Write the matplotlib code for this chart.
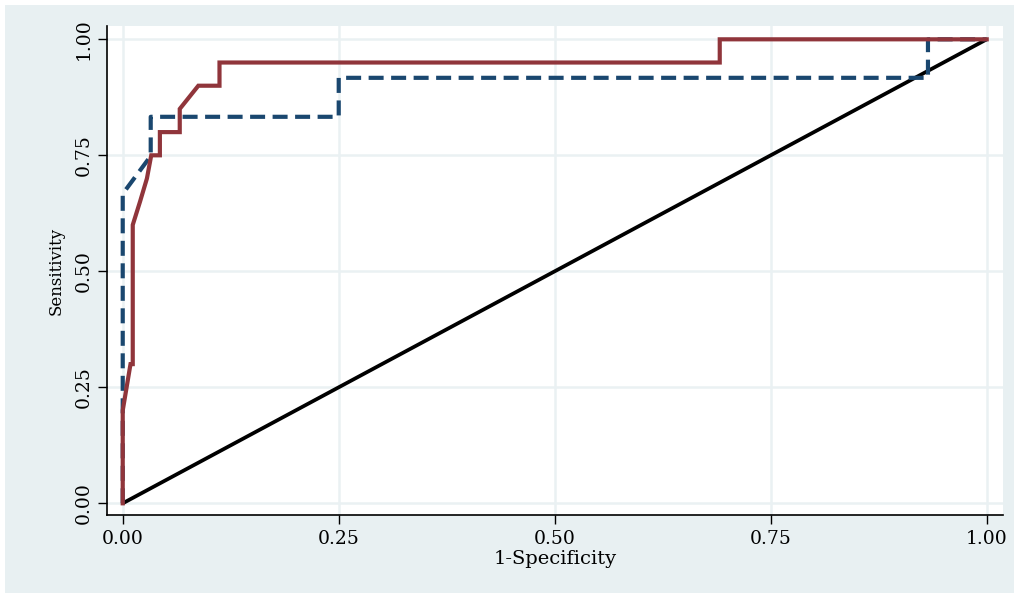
import matplotlib
matplotlib.use("Agg")
import matplotlib.pyplot as plt
from matplotlib.patches import Rectangle

# ROC curve 1 (maroon, solid)
roc1_fpr = [0, 0, 0.009, 0.0116, 0.0116, 0.02, 0.028, 0.033, 0.043, 0.043,
            0.066, 0.066, 0.0875, 0.112, 0.112, 0.691, 0.691, 1.0]
roc1_tpr = [0, 0.2, 0.3, 0.3, 0.6, 0.65, 0.7, 0.75, 0.75, 0.8,
            0.8, 0.85, 0.9, 0.9, 0.95, 0.95, 1.0, 1.0]

# ROC curve 2 (navy, dashed)
roc2_fpr = [0, 0, 0.029, 0.0324, 0.0324, 0.25, 0.25, 0.932, 0.932, 1.0]
roc2_tpr = [0, 0.667, 0.74, 0.75, 0.833, 0.833, 0.917, 0.917, 1.0, 1.0]

# Reference line
ref_x = [0, 1]
ref_y = [0, 1]

ticks = [0, 0.25, 0.5, 0.75, 1.0]
tick_labels = ["0.00", "0.25", "0.50", "0.75", "1.00"]

BG = "#e8f0f2"
GRID = "#eaf1f3"
RED = "#90353b"
NAVY = "#1a476f"
FONT = "DejaVu Serif"

fig = plt.figure(figsize=(10.14, 5.94), dpi=100)
fig.patch.set_facecolor("white")
bg = Rectangle((5 / 1014, 1 / 594), 1 - 5 / 1014, 1 - 6 / 594,
               transform=fig.transFigure, facecolor=BG, edgecolor="none", zorder=-10)
fig.add_artist(bg)

ax = fig.add_axes([107 / 1014, (594 - 515) / 594, (1002.7 - 107) / 1014, (515 - 26) / 594])
ax.set_zorder(1)
ax.set_facecolor("white")
ax.set_xlim(-0.0182, 1.0185)
ax.set_ylim(-0.0252, 1.0287)

ax.set_xticks(ticks)
ax.set_xticklabels(tick_labels, family=FONT, fontsize=13.5)
ax.set_yticks(ticks)
ax.set_yticklabels(tick_labels, family=FONT, fontsize=13.5, rotation=90, va="center")
ax.tick_params(axis="both", direction="out", length=6.5, width=1.0, color="black", pad=4)

ax.grid(True, color=GRID, linewidth=1.8)
ax.set_axisbelow(True)

for s in ["top", "right"]:
    ax.spines[s].set_visible(False)
for s in ["left", "bottom"]:
    ax.spines[s].set_linewidth(1.2)
    ax.spines[s].set_color("black")

ax.plot(ref_x, ref_y, color="black", linewidth=2.7, zorder=3, solid_capstyle="butt")
ax.plot(roc2_fpr, roc2_tpr, color=NAVY, linewidth=3.0, linestyle=(0, (3.6, 1.8)), zorder=4)
ax.plot(roc1_fpr, roc1_tpr, color=RED, linewidth=3.0, zorder=5, solid_joinstyle="miter")

ax.set_xlabel("1-Specificity", family=FONT, fontsize=14, labelpad=1.5)
ax.set_ylabel("Sensitivity", family=FONT, fontsize=12, labelpad=7)

fig.savefig("out.png", dpi=100, facecolor=fig.get_facecolor())
